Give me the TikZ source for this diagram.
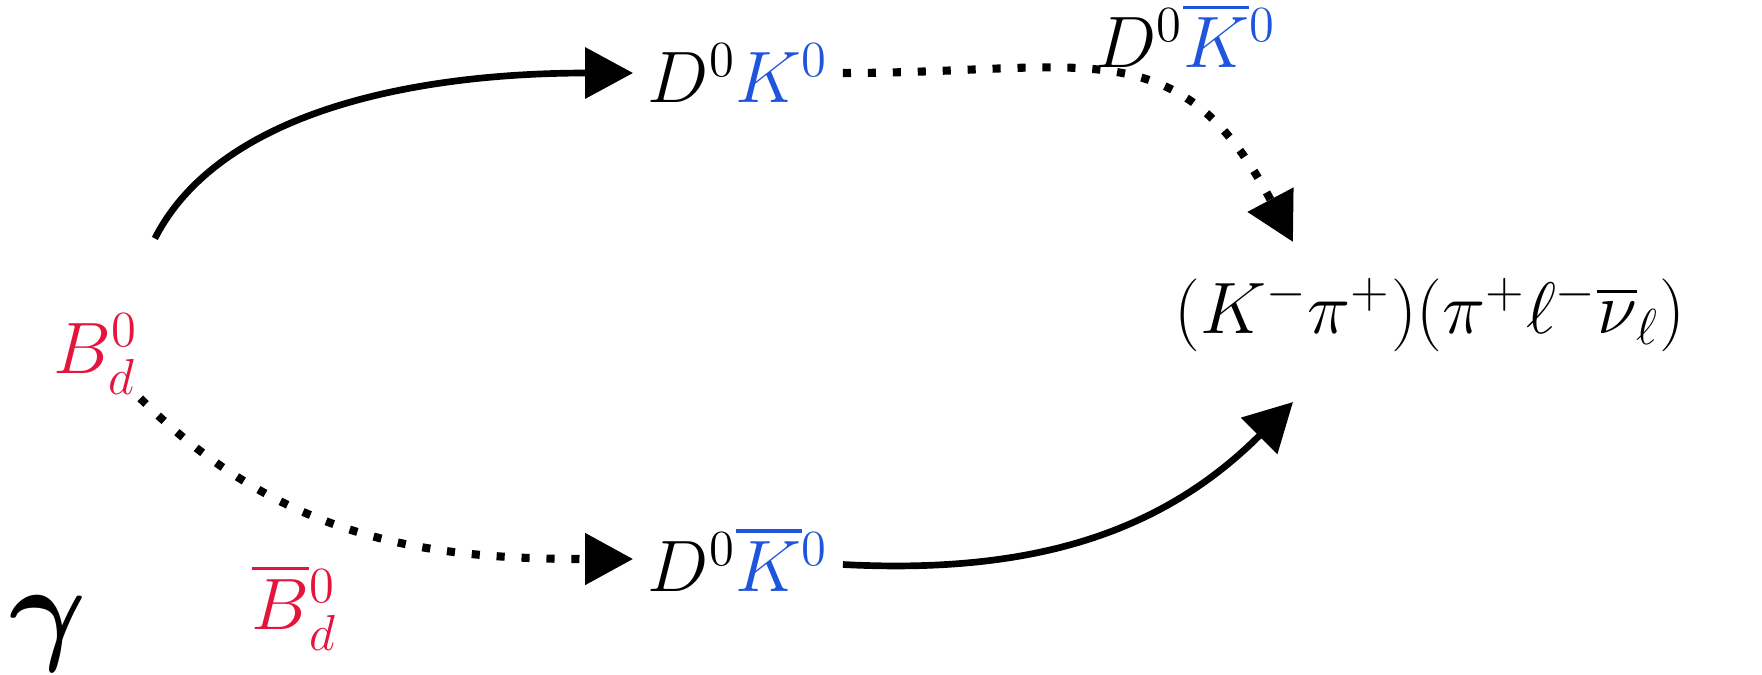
\documentclass[tikz,border=0pt]{standalone}
\usepackage{bm}
\usepackage{amssymb,amsfonts}
\usepackage{tikz}
\usetikzlibrary{arrows.meta}

\definecolor{bred}{RGB}{228,20,60}
\definecolor{kblue}{RGB}{30,85,220}

\begin{document}
\begin{tikzpicture}[
        sarr/.style ={-{Triangle[length=0.48cm,width=0.50cm]}, line width=1.9pt},
        darr/.style ={-{Triangle[length=0.48cm,width=0.50cm]}, line width=2.3pt,
                      dash pattern=on 2.3pt off 4.8pt},
        part/.style ={font=\fontsize{22}{26}\selectfont, inner sep=4pt},
        lbl/.style  ={font=\fontsize{22}{26}\selectfont, inner sep=1pt},]

    \useasboundingbox (0,0) rectangle (17.62,6.74);

    \node[part, inner sep=1pt] (B) at (0.96,  3.20) {$\textcolor{bred}{B^0_d}$};
    \node[part] (DKt) at (7.38,  6.01) {$D^0\textcolor{kblue}{K^0}$};
    \node[part] (DKb) at (7.38,  1.15) {$D^0\textcolor{kblue}{\overline{K}{}^0}$};
    \node[part] (F)   at (14.30, 3.59)
        {$(K^-\pi^+)(\pi^+\ell^-\overline{\nu}_\ell)$};
    \node[scale=1.35] (gam) at (0.48, 0.40)
        {\fontsize{25}{30}\selectfont$\bm{\gamma}$};

    \draw[sarr, shorten <=0.8cm] (B) to[out=63, in=180] (DKt);
    \draw[darr] (B) to[out=-45, in=180]
        node[lbl, pos=0.35, below=14pt] {$\textcolor{bred}{\overline{B}{}^0_d}$}
        (DKb);

    \draw[darr] (DKt) to[out=0, in=118, looseness=1.3]
        node[lbl, pos=0.6, above=4pt, xshift=0.3cm]
            {$D^0\textcolor{kblue}{\overline{K}{}^0}$}
        ([xshift=-1.37cm, yshift=0.73cm]F.center);
    \draw[sarr] (DKb) to[out=-3, in=225]
        ([xshift=-1.37cm, yshift=-0.87cm]F.center);
\end{tikzpicture}
\end{document}
